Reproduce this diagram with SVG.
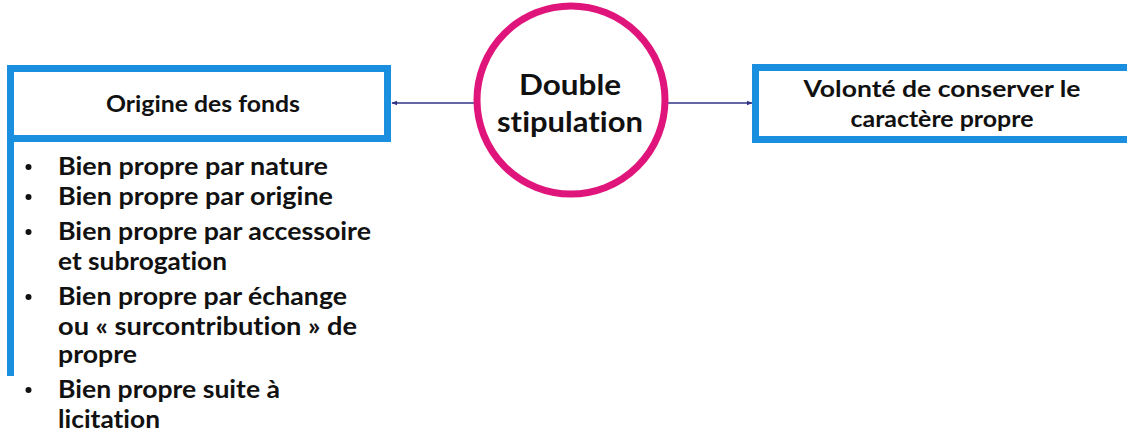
<svg xmlns="http://www.w3.org/2000/svg" width="1127" height="431" viewBox="0 0 1127 431">
<style>
.box{fill:#fff;stroke:#1a8fe0;stroke-width:7}
.t{font-family:Lato,"Open Sans","Liberation Sans",sans-serif;font-weight:bold;fill:#111;font-variant-ligatures:none}
.h{font-size:22px;text-anchor:middle}
.c{font-size:28px;text-anchor:middle}
.b{font-size:24px}
.conn{stroke:#2e3386;stroke-width:1.3;fill:none}
</style>
<defs>
<marker id="ah" viewBox="0 0 10 10" refX="9" refY="5" markerWidth="6" markerHeight="6" orient="auto" markerUnits="userSpaceOnUse">
<path d="M0,1 L10,5 L0,9 z" fill="#2e3386"/>
</marker>
</defs>
<rect width="1127" height="431" fill="#fff"/>
<g id="connectors">
<line class="conn" x1="474" y1="103" x2="392" y2="103" marker-end="url(#ah)"/>
<line class="conn" x1="668" y1="103" x2="752" y2="103" marker-end="url(#ah)"/>
</g>
<g id="origine">
<rect class="box" x="10.5" y="68.5" width="377" height="70"/>
<line x1="10.5" y1="138" x2="10.5" y2="376" stroke="#1a8fe0" stroke-width="7"/>
<text class="t h" x="203" y="112" textLength="194" lengthAdjust="spacingAndGlyphs">Origine des fonds</text>
</g>
<g id="liste" class="t b">
<circle cx="28.5" cy="167" r="3" fill="#111"/>
<text x="58" y="175" textLength="270" lengthAdjust="spacingAndGlyphs">Bien propre par nature</text>
<circle cx="28.5" cy="197" r="3" fill="#111"/>
<text x="58" y="205" textLength="275" lengthAdjust="spacingAndGlyphs">Bien propre par origine</text>
<circle cx="28.5" cy="232" r="3" fill="#111"/>
<text x="58" y="240" textLength="313" lengthAdjust="spacingAndGlyphs">Bien propre par accessoire</text>
<text x="58" y="270" textLength="169" lengthAdjust="spacingAndGlyphs">et subrogation</text>
<circle cx="28.5" cy="297" r="3" fill="#111"/>
<text x="58" y="305" textLength="289" lengthAdjust="spacingAndGlyphs">Bien propre par échange</text>
<text x="58" y="335" textLength="299" lengthAdjust="spacingAndGlyphs">ou « surcontribution » de</text>
<text x="58" y="363" textLength="79" lengthAdjust="spacingAndGlyphs">propre</text>
<circle cx="28.5" cy="390" r="3" fill="#111"/>
<text x="58" y="398" textLength="222" lengthAdjust="spacingAndGlyphs">Bien propre suite à</text>
<text x="58" y="428" textLength="102" lengthAdjust="spacingAndGlyphs">licitation</text>
</g>
<g id="double">
<circle cx="571" cy="100" r="94" fill="#fff" stroke="#e0157c" stroke-width="7"/>
<text class="t c" x="570" y="95" textLength="102" lengthAdjust="spacingAndGlyphs">Double</text>
<text class="t c" x="570" y="132" textLength="146" lengthAdjust="spacingAndGlyphs">stipulation</text>
</g>
<g id="volonte">
<rect class="box" x="755.5" y="67.5" width="400" height="72"/>
<text class="t h" x="942" y="97" textLength="277" lengthAdjust="spacingAndGlyphs">Volonté de conserver le</text>
<text class="t h" x="942" y="127" textLength="183" lengthAdjust="spacingAndGlyphs">caractère propre</text>
</g>
</svg>
